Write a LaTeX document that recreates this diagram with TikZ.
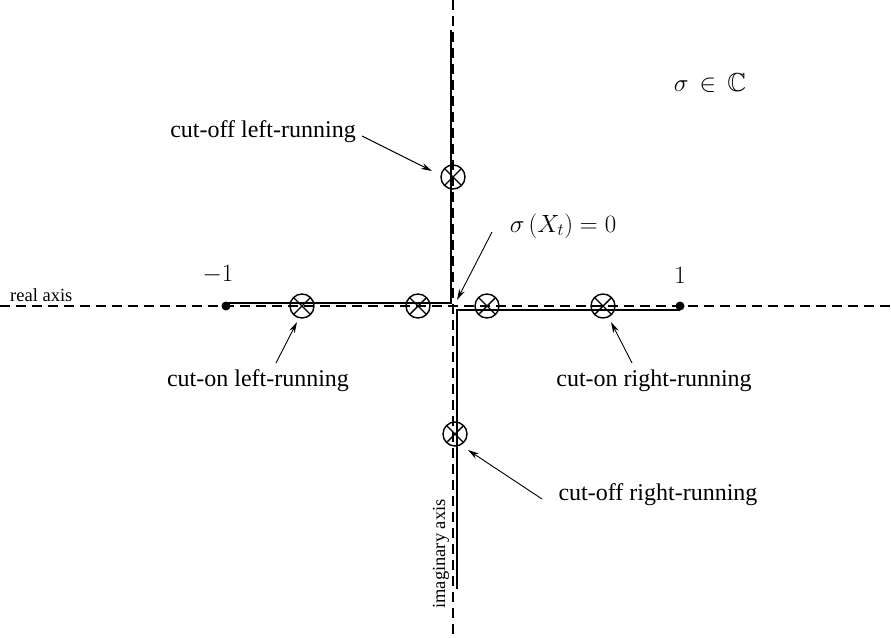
\documentclass[tikz,border=0pt]{standalone}
\usepackage{amssymb}
\usepackage{fontspec}
\setmainfont{Liberation Serif}
\usetikzlibrary{arrows.meta}
\tikzset{
  axisline/.style={dashed, line width=1.6pt, dash pattern=on 10pt off 6pt},
  cutline/.style={line width=2.7pt},
  xcirc/.style={circle, draw, line width=1.4pt, minimum size=24pt, inner sep=0pt,
    path picture={\draw[line width=1.4pt]
      (path picture bounding box.north west) -- (path picture bounding box.south east)
      (path picture bounding box.north east) -- (path picture bounding box.south west);}},
  enddot/.style={circle, fill, inner sep=0pt, minimum size=9pt},
  lbl/.style={font=\fontsize{24}{28}\selectfont, inner sep=0pt},
  mlbl/.style={font=\fontsize{26}{30}\selectfont, inner sep=0pt},
  small/.style={font=\fontsize{18.5}{22}\selectfont, inner sep=0pt},
  pointer/.style={line width=0.9pt, -{Stealth[length=11pt, width=6pt]}}
}
\begin{document}
\begin{tikzpicture}[x=1pt, y=-1pt]
\useasboundingbox (0,0) rectangle (891,637);
% axes
\coordinate (ra1) at (0,306);
\coordinate (ra2) at (891,306);
\coordinate (ia1) at (453,0);
\coordinate (ia2) at (453,637);
\draw[axisline] (ra1) -- (ra2);
\draw[axisline] (ia1) -- (ia2);
% branch cuts
\coordinate (lc1) at (226,303);
\coordinate (lc2) at (451,303);
\coordinate (lc3) at (451,30);
\coordinate (rc1) at (680,310);
\coordinate (rc2) at (457,310);
\coordinate (rc3) at (457,589);
\draw[cutline] (lc1) -- (lc2) -- (lc3);
\draw[cutline] (rc1) -- (rc2) -- (rc3);
% end dots
\node[enddot] (dm) at (226,306) {};
\node[enddot] (dp) at (680,306) {};
% crosses
\node[xcirc] (c1) at (302,306) {};
\node[xcirc] (c2) at (418,306) {};
\node[xcirc] (c3) at (487,306) {};
\node[xcirc] (c4) at (603,306) {};
\node[xcirc] (c5) at (453,177) {};
\node[xcirc] (c6) at (455,434) {};
% labels
\node[mlbl] (lm) at (218,275) {$-1$};
\node[mlbl] (lp) at (680,275) {$1$};
\node[mlbl] (sc) at (710,83) {$\sigma \,\in\, \mathbb{C}$};
\node[mlbl] (sx) at (563,226) {$\sigma\,(X_t) = 0$};
\node[small, anchor=base west] (ra) at (10,301) {real axis};
\node[small, rotate=90] (ia) at (441,554) {imaginary axis};
\node[lbl, anchor=base east] (tcol) at (356,137) {cut-off left-running};
\node[lbl, anchor=base] (tcnl) at (258,386) {cut-on left-running};
\node[lbl, anchor=base] (tcnr) at (654,386) {cut-on right-running};
\node[lbl, anchor=base] (tcor) at (658,500) {cut-off right-running};
% pointers
\coordinate (a1s) at (492,232); \coordinate (a1e) at (457,300);
\coordinate (a2s) at (362,136); \coordinate (a2e) at (432,171);
\coordinate (a3s) at (542,499); \coordinate (a3e) at (468,450);
\coordinate (a4s) at (276,363); \coordinate (a4e) at (297,322);
\coordinate (a5s) at (632,363); \coordinate (a5e) at (611,322);
\draw[pointer] (a1s) -- (a1e);
\draw[pointer] (a2s) -- (a2e);
\draw[pointer] (a3s) -- (a3e);
\draw[pointer] (a4s) -- (a4e);
\draw[pointer] (a5s) -- (a5e);
\end{tikzpicture}
\end{document}
